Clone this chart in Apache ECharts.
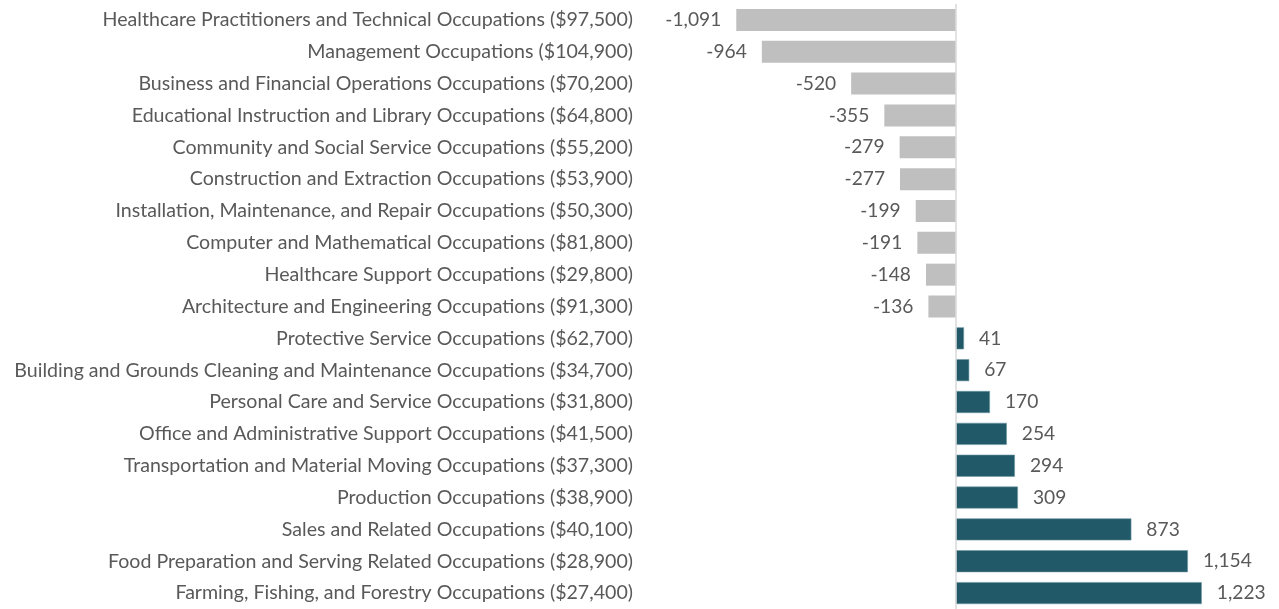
<!DOCTYPE html>
<html>
<head>
<meta charset="utf-8">
<script src="https://cdn.jsdelivr.net/npm/echarts@6/dist/echarts.min.js"></script>
<style>
html,body{margin:0;padding:0;background:#fff;}
#chart{width:1279px;height:609px;}
</style>
</head>
<body>
<div id="chart"></div>
<script>
const occupations = [
  "Healthcare Practitioners and Technical Occupations",
  "Management Occupations",
  "Business and Financial Operations Occupations",
  "Educational Instruction and Library Occupations",
  "Community and Social Service Occupations",
  "Construction and Extraction Occupations",
  "Installation, Maintenance, and Repair Occupations",
  "Computer and Mathematical Occupations",
  "Healthcare Support Occupations",
  "Architecture and Engineering Occupations",
  "Protective Service Occupations",
  "Building and Grounds Cleaning and Maintenance Occupations",
  "Personal Care and Service Occupations",
  "Office and Administrative Support Occupations",
  "Transportation and Material Moving Occupations",
  "Production Occupations",
  "Sales and Related Occupations",
  "Food Preparation and Serving Related Occupations",
  "Farming, Fishing, and Forestry Occupations"
];
const wages = ["$97,500","$104,900","$70,200","$64,800","$55,200","$53,900","$50,300","$81,800","$29,800","$91,300","$62,700","$34,700","$31,800","$41,500","$37,300","$38,900","$40,100","$28,900","$27,400"];
const values = [-1091,-964,-520,-355,-279,-277,-199,-191,-148,-136,41,67,170,254,294,309,873,1154,1223];

const categories = occupations.map((o,i)=>o+" ("+wages[i]+")");
const FONT = "Lato";
const TXT = "#595959";

const chart = echarts.init(document.getElementById('chart'), null, {renderer:'canvas'});
chart.setOption({
  animation:false,
  grid:{left:654, right:21.5, top:4, height:607, containLabel:false},
  xAxis:{type:'value', min:-1500, max:1500, show:false},
  yAxis:{
    type:'category', data:categories, inverse:true,
    axisLine:{show:false}, axisTick:{show:false},
    axisLabel:{color:TXT, fontFamily:FONT, fontSize:19.6, margin:21}
  },
  series:[{
    type:'bar', barWidth:22,
    data: values.map(v=>({
      value:v,
      itemStyle:{color: v<0 ? '#BFBFBF' : '#215968', borderColor: v<0 ? '#BFBFBF' : '#6F98A3', borderWidth: v<0?0:0.6},
      label:{position: v<0 ? 'left' : 'right'}
    })),
    label:{show:true, distance:15, color:TXT, fontFamily:FONT, fontSize:19.2,
      formatter:p=>p.value.toLocaleString('en-US')},
    markLine:{
      silent:true, symbol:'none', label:{show:false},
      lineStyle:{color:'#D9D9D9', width:1.5, type:'solid'},
      data:[{xAxis:0}]
    }
  }]
});
</script>
</body>
</html>
